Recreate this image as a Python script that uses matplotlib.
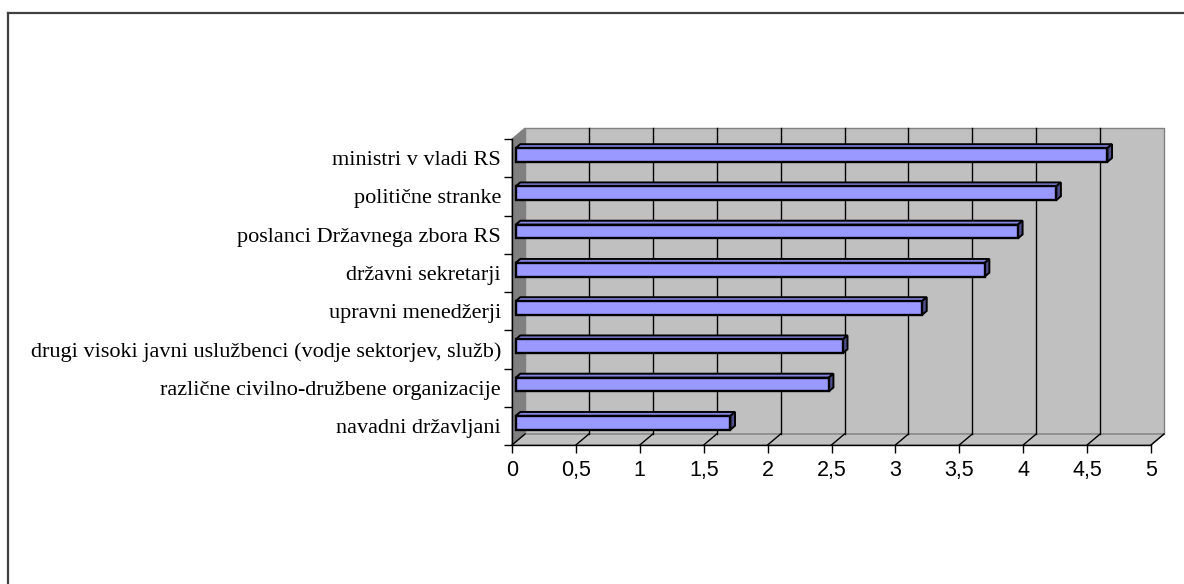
import matplotlib.pyplot as plt
from matplotlib.patches import Polygon
from matplotlib.lines import Line2D

categories = [
    "ministri v vladi RS",
    "politične stranke",
    "poslanci Državnega zbora RS",
    "državni sekretarji",
    "upravni menedžerji",
    "drugi visoki javni uslužbenci (vodje sektorjev, služb)",
    "različne civilno-družbene organizacije",
    "navadni državljani",
]
values = [4.63, 4.23, 3.93, 3.67, 3.18, 2.56, 2.45, 1.68]
x_ticks = [0, 0.5, 1, 1.5, 2, 2.5, 3, 3.5, 4, 4.5, 5]
x_tick_labels = ["0", "0,5", "1", "1,5", "2", "2,5", "3", "3,5", "4", "4,5", "5"]

W, H = 1184, 584
fig = plt.figure(figsize=(W / 100, H / 100), dpi=100)
ax = fig.add_axes([512 / W, 139 / H, 639 / W, 306 / H])
n = len(categories)
ax.set_xlim(0, 5)
ax.set_ylim(n, 0)
ax.patch.set_visible(False)

# depth of the 3d box, in pixels, turned into data units
bbox = ax.get_position()
px_x = bbox.width * W / 5
px_y = bbox.height * H / n
DX, DY = 13 / px_x, 11 / px_y


def back(x, y, f=1.0):
    return (x + f * DX, y - f * DY)


def poly(pts, fc, ec, lw=1.0, z=1):
    ax.add_patch(Polygon(pts, closed=True, facecolor=fc, edgecolor=ec,
                         linewidth=lw, zorder=z, clip_on=False, joinstyle="miter"))


# walls and floor
poly([(0, n), (0, 0), back(0, 0), back(0, n)], "#808080", "#808080", 0.8, 1)
poly([back(0, 0), back(5, 0), back(5, n), back(0, n)], "#c0c0c0", "#808080", 1.0, 1)
poly([(0, n), (5, n), back(5, n), back(0, n)], "#c0c0c0", "#808080", 1.0, 1)

for xv in x_ticks[1:-1]:
    x0, y0 = back(xv, n)
    x1, y1 = back(xv, 0)
    ax.plot([x0, x1], [y0, y1], color="black", lw=1.0, zorder=2, clip_on=False)
for xv in x_ticks:
    x0, y0 = back(xv, n)
    ax.plot([xv, x0], [n, y0], color="black", lw=1.0, zorder=2, clip_on=False)

# bars drawn as boxes: top face, end face, front face
f0, f1 = 0.28, 0.64
half = 0.18
for i, v in enumerate(values):
    yt, yb = i + 0.5 - half, i + 0.5 + half
    poly([back(0, yt, f0), back(v, yt, f0), back(v, yt, f1), back(0, yt, f1)],
         "#8585e0", "black", 1.4, 3)
    poly([back(v, yt, f0), back(v, yb, f0), back(v, yb, f1), back(v, yt, f1)],
         "#4f4f8c", "black", 1.4, 3)
    poly([back(0, yt, f0), back(v, yt, f0), back(v, yb, f0), back(0, yb, f0)],
         "#9999ff", "black", 1.7, 4)

# axes
for s in ["top", "right"]:
    ax.spines[s].set_visible(False)
for s in ["left", "bottom"]:
    ax.spines[s].set_color("black")
    ax.spines[s].set_linewidth(1.0)
    ax.spines[s].set_zorder(5)

ax.set_xticks(x_ticks)
ax.set_xticklabels(x_tick_labels, fontfamily="Liberation Sans", fontsize=15.5)
ax.tick_params(axis="x", direction="out", length=6, width=1, pad=5)

ax.set_yticks([i + 0.5 for i in range(n)])
ax.set_yticklabels(categories, fontfamily="Liberation Serif", fontsize=16)
ax.set_yticks(range(n + 1), minor=True)
ax.tick_params(axis="y", which="major", length=0, pad=8)
ax.tick_params(axis="y", which="minor", direction="out", length=6, width=1)

# outer frame
fig.add_artist(Line2D([8 / W, 8 / W], [0, 1 - 13 / H], color="#404040", lw=1.6))
fig.add_artist(Line2D([8 / W, 1], [1 - 13 / H, 1 - 13 / H], color="#404040", lw=1.6))

fig.savefig("out.png", dpi=100, facecolor="white")
